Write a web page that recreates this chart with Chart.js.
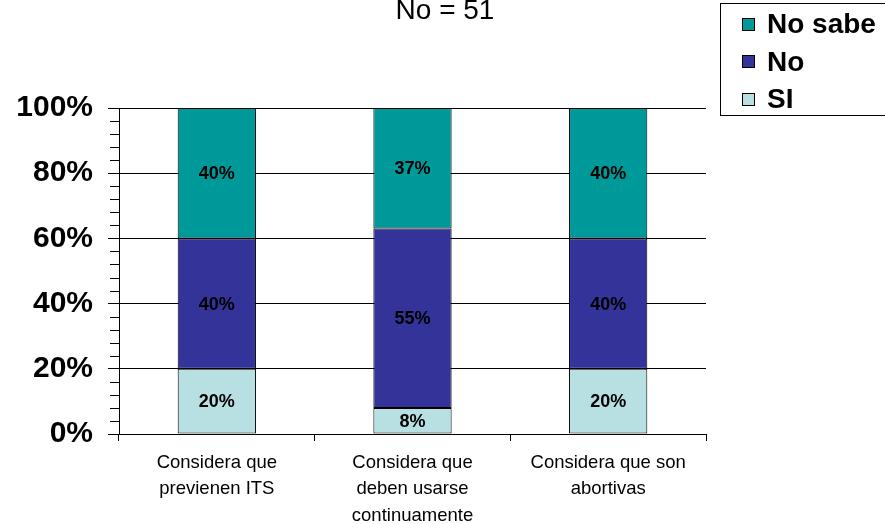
<!DOCTYPE html>
<html>
<head>
<meta charset="utf-8">
<script src="https://cdn.jsdelivr.net/npm/chart.js@4"></script>
<style>
  body { margin: 0; background: #fff; }
  #wrap { width: 885px; height: 524px; }
</style>
</head>
<body>
<div id="wrap"><canvas id="myChart" width="885" height="524"></canvas></div>
<script>
// Data
const categories = [
    ['Considera que', 'previenen ITS'],
    ['Considera que', 'deben usarse', 'continuamente'],
    ['Considera que son', 'abortivas']
];
const seriesNames = ['SI', 'No', 'No sabe'];
const siValues = [20, 8, 20];
const noValues = [40, 55, 40];
const noSabeValues = [40, 37, 40];
const titleText = 'No = 51';

const colors = ['#b8e0e2', '#333399', '#009999'];
const FONT = '"Liberation Sans", Arial, sans-serif';

// value labels in the middle of each segment
const valueLabels = {
    id: 'valueLabels',
    afterDatasetsDraw(chart) {
        const ctx = chart.ctx;
        ctx.save();
        ctx.font = 'bold 18px ' + FONT;
        ctx.fillStyle = '#000';
        ctx.textAlign = 'center';
        ctx.textBaseline = 'middle';
        chart.data.datasets.forEach((ds, i) => {
            const meta = chart.getDatasetMeta(i);
            meta.data.forEach((bar, j) => {
                const y = (bar.y + bar.base) / 2;
                ctx.fillText(ds.data[j] + '%', bar.x, y + 1);
            });
        });
        ctx.restore();
    }
};

// minor ticks on the y axis, title and boxed legend
const decorations = {
    id: 'decorations',
    afterDraw(chart) {
        const ctx = chart.ctx;
        const yScale = chart.scales.y;
        const axisX = chart.chartArea.left;
        ctx.save();
        ctx.strokeStyle = '#000';
        ctx.lineWidth = 1;
        for (let v = 0; v <= 100; v += 4) {
            if (v % 20 === 0) continue;
            const py = Math.round(yScale.getPixelForValue(v)) + 0.5;
            ctx.beginPath();
            ctx.moveTo(axisX - 9, py);
            ctx.lineTo(axisX, py);
            ctx.stroke();
        }

        // title
        ctx.fillStyle = '#000';
        ctx.font = '28px ' + FONT;
        ctx.textAlign = 'center';
        ctx.textBaseline = 'alphabetic';
        ctx.fillText(titleText, 445, 19);

        // legend box
        ctx.strokeRect(720.5, 3.5, 170, 112);
        ctx.font = 'bold 28px ' + FONT;
        ctx.textAlign = 'left';
        ctx.textBaseline = 'middle';
        const order = [2, 1, 0];
        order.forEach((idx, k) => {
            const cy = 23.5 + k * 37.5;
            ctx.fillStyle = colors[idx];
            ctx.fillRect(742, Math.round(cy - 6), 12, 12);
            ctx.strokeRect(742.5, Math.round(cy - 6) + 0.5, 12, 12);
            ctx.fillStyle = '#000';
            ctx.fillText(seriesNames[idx], 767, cy + 2);
        });
        ctx.restore();
    }
};

document.addEventListener('DOMContentLoaded', function () {
    const ctx = document.getElementById('myChart').getContext('2d');
    const datasets = [siValues, noValues, noSabeValues].map((vals, i) => ({
        label: seriesNames[i],
        data: vals,
        backgroundColor: colors[i],
        borderColor: '#000',
        borderWidth: 1,
        borderSkipped: false,
        categoryPercentage: 1,
        barPercentage: 0.4
    }));

    new Chart(ctx, {
        type: 'bar',
        data: { labels: categories, datasets: datasets },
        options: {
            responsive: false,
            animation: false,
            layout: { padding: { top: 108, right: 179, left: 0, bottom: 0 } },
            plugins: {
                legend: { display: false },
                title: { display: false },
                tooltip: { enabled: false }
            },
            scales: {
                x: {
                    stacked: true,
                    grid: {
                        offset: true,
                        drawOnChartArea: false,
                        color: '#000',
                        tickColor: '#000',
                        tickLength: 7
                    },
                    border: { color: '#000', width: 1 },
                    ticks: {
                        color: '#000',
                        font: { family: FONT, size: 18.5, lineHeight: 1.45 },
                        padding: 8,
                        maxRotation: 0,
                        autoSkip: false
                    },
                    afterFit(scale) { scale.height = 90; }
                },
                y: {
                    stacked: true,
                    min: 0,
                    max: 100,
                    grid: {
                        color: c => (c.tick && c.tick.value % 20 === 0) ? '#000' : 'transparent',
                        tickColor: c => (c.tick && c.tick.value % 20 === 0) ? '#000' : 'transparent',
                        tickLength: 11
                    },
                    border: { color: '#000', width: 1 },
                    ticks: {
                        stepSize: 4,
                        autoSkip: false,
                        color: '#000',
                        padding: 15,
                        font: { family: FONT, size: 30, weight: 'bold' },
                        callback: v => (v % 20 === 0) ? v + '%' : ''
                    },
                    afterFit(scale) { scale.width = 119; }
                }
            }
        },
        plugins: [valueLabels, decorations]
    });
});
</script>
</body>
</html>
